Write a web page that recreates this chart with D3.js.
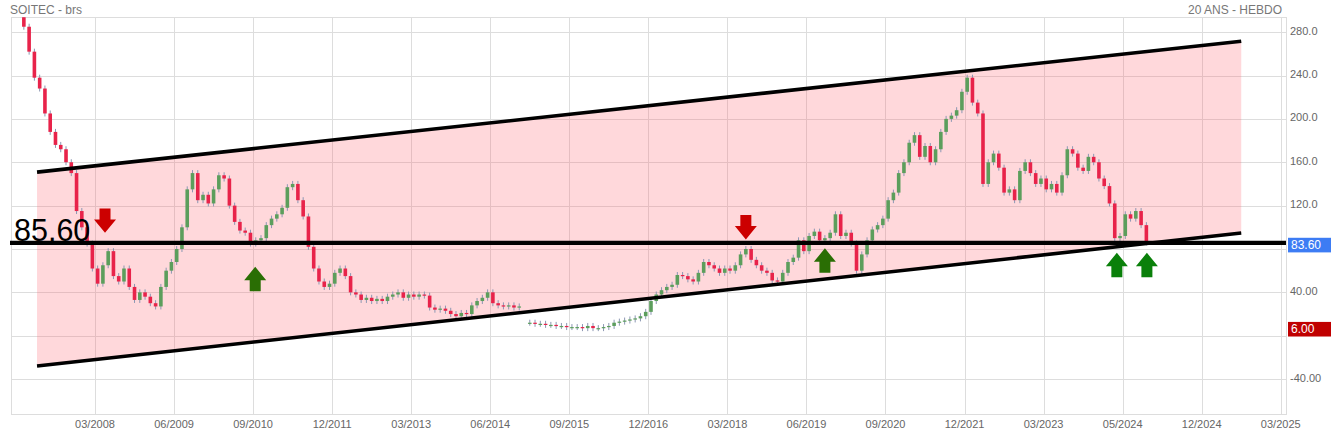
<!DOCTYPE html>
<html><head><meta charset="utf-8">
<script src="https://cdn.jsdelivr.net/npm/d3@7/dist/d3.min.js"></script>
<style>
html,body{margin:0;padding:0;background:#fff;}
svg{display:block;font-family:Arial,"Liberation Sans",sans-serif;}
</style></head>
<body>
<svg id="chart" width="1331" height="435"></svg>
<script>
// ---- DATA ----
const title = "SOITEC - brs";
const subtitle = "20 ANS - HEBDO";
const tickLabels = ["03/2008","06/2009","09/2010","12/2011","03/2013","06/2014","09/2015","12/2016","03/2018","06/2019","09/2020","12/2021","03/2023","05/2024","12/2024","03/2025"];
const tickBars = [13.5,28.5,43.5,58.5,73.5,88.5,103.5,118.5,133.5,148.5,163.5,178.5,193.5,208.5,223.5,238.5];
const yTicks = [280,240,200,160,120,80,40,0,-40];
const yTickLabels = ["280.0","240.0","200.0","160.0","120.0","","40.00","","-40.00"]; // 80 and 0 are hidden under the price boxes
const firstOpen = 300;
const closes = [
 285,262,238,228,205,188,176,172,160,150,
 115,100,85,62,48,65,78,55,50,62,
 45,33,40,36,30,27,45,60,68,80,
 100,135,150,125,130,122,135,148,145,120,
 105,97,95,85,88,90,102,108,112,118,
 137,140,125,110,82,62,50,45,48,58,
 62,55,40,38,33,35,32,34,32,36,
 38,40,35,38,36,38,37,26,24,25,
 23,20,18,21,20,28,32,35,40,30,
 28,27,28,26,27,null,12,11,11,10,
 10,9,9,8,8,8,7,9,7,7,
 8,9,12,13,14,15,16,18,22,32,
 38,42,45,47,56,55,52,50,58,68,
 65,62,58,62,60,65,75,80,70,65,
 60,58,51,50,58,68,72,88,78,92,
 96,88,90,95,112,92,95,85,60,75,
 88,98,102,108,125,132,150,160,178,185,
 165,175,160,172,188,200,203,208,225,238,
 215,205,140,160,168,155,132,135,125,152,
 160,150,140,145,135,140,132,148,172,168,
 155,152,165,160,145,138,122,90,92,112,
 108,115,102,86
];
const channelBars = [2.5, 231];
const channelUpper = [150.9, 271.6];
const channelLower = [-27.9, 94.7];
const levelValue = 85.6;
const levelText = "85.60";
const lastPrice = 83.6;
const lowMark = 6.0;
const arrowBars = [15.4, 137.0, 43.9, 152.0, 207.4, 213.1];
const arrowTips = [94.9, 88.8, 63.6, 80.6, 76.5, 76.5];
const arrowDirs = ["down","down","up","up","up","up"];
const arrowColors = ["#cc0000","#cc0000","#2a6e04","#2a6e04","#0a800a","#0a800a"];

// ---- LAYOUT ----
const W = 1331, H = 435;
const plot = {left: 10.7, right: 1286, top: 17.3, bottom: 414};
const svg = d3.select("#chart");

const x = d3.scaleLinear().domain([tickBars[0], tickBars[tickBars.length-1]]).range([95, 1280.75]);
const y = d3.scaleLinear().domain([-72.2, 293.7]).range([plot.bottom, plot.top]);

svg.append("defs").append("clipPath").attr("id","clip")
  .append("rect").attr("x",plot.left).attr("y",plot.top)
  .attr("width",plot.right-plot.left).attr("height",plot.bottom-plot.top);

// grid
const grid = svg.append("g").attr("stroke","#dddddd").attr("stroke-width",1).attr("shape-rendering","crispEdges");
grid.selectAll("line.h").data(yTicks).join("line").attr("class","h")
  .attr("x1",plot.left).attr("x2",plot.right).attr("y1",d=>Math.round(y(d))+0.5).attr("y2",d=>Math.round(y(d))+0.5);
grid.selectAll("line.v").data(tickBars).join("line").attr("class","v")
  .attr("x1",d=>Math.round(x(d))+0.5).attr("x2",d=>Math.round(x(d))+0.5).attr("y1",plot.top).attr("y2",plot.bottom);
// frame
svg.append("rect").attr("x",Math.round(plot.left)+0.5).attr("y",Math.round(plot.top)+0.5)
  .attr("width",Math.round(plot.right-plot.left)).attr("height",Math.round(plot.bottom-plot.top))
  .attr("fill","none").attr("stroke","#dddddd").attr("shape-rendering","crispEdges");

// channel fill
const chPts = [
  [x(channelBars[0]), y(channelUpper[0])],
  [x(channelBars[1]), y(channelUpper[1])],
  [x(channelBars[1]), y(channelLower[1])],
  [x(channelBars[0]), y(channelLower[0])]
];
svg.append("polygon").attr("points", chPts.map(p=>p.join(",")).join(" "))
  .attr("fill","rgb(255,100,112)").attr("fill-opacity",0.25);

// candles
const candles = [];
let prev = firstOpen;
closes.forEach((c,i)=>{
  if (c === null) { prev = null; return; }
  const o = (prev === null) ? c : prev;
  candles.push({i, o, c});
  prev = c;
});
const cg = svg.append("g").attr("clip-path","url(#clip)");
cg.selectAll("line.wick").data(candles).join("line").attr("class","wick")
  .attr("x1",d=>x(d.i)).attr("x2",d=>x(d.i))
  .attr("y1",d=>y(Math.max(d.o,d.c))-3).attr("y2",d=>y(Math.min(d.o,d.c))+3)
  .attr("stroke","#8c97b2").attr("stroke-width",1);
cg.selectAll("rect.body").data(candles).join("rect").attr("class","body")
  .attr("x",d=>x(d.i)-1.8).attr("width",3.6)
  .attr("y",d=>y(Math.max(d.o,d.c)))
  .attr("height",d=>Math.max(1.2, Math.abs(y(d.o)-y(d.c))))
  .attr("fill",d=>d.c>=d.o ? "#5c9e5c" : "#e8234a");

// channel lines
const lineGen = d3.line().x(d=>x(d[0])).y(d=>y(d[1]));
svg.append("path").attr("d", lineGen([[channelBars[0],channelUpper[0]],[channelBars[1],channelUpper[1]]]))
  .attr("stroke","#000").attr("stroke-width",3.6).attr("fill","none");
svg.append("path").attr("d", lineGen([[channelBars[0],channelLower[0]],[channelBars[1],channelLower[1]]]))
  .attr("stroke","#000").attr("stroke-width",3.6).attr("fill","none");

// level line
svg.append("line").attr("x1",plot.left-0.7).attr("x2",plot.right).attr("y1",y(levelValue)).attr("y2",y(levelValue))
  .attr("stroke","#000").attr("stroke-width",4.2);
svg.append("text").attr("x",14).attr("y",y(levelValue)-2.3).text(levelText)
  .attr("font-size",30.5).attr("fill","#000");

// arrows
const headW = 22, headH = 13.4, shaftW = 11, shaftH = 11;
arrowBars.forEach((b,k)=>{
  const cx = x(b), ty = y(arrowTips[k]);
  const s = arrowDirs[k]==="down" ? -1 : 1;
  const pts = [
    [cx, ty],
    [cx+headW/2, ty+s*headH],
    [cx+shaftW/2, ty+s*headH],
    [cx+shaftW/2, ty+s*(headH+shaftH)],
    [cx-shaftW/2, ty+s*(headH+shaftH)],
    [cx-shaftW/2, ty+s*headH],
    [cx-headW/2, ty+s*headH]
  ];
  svg.append("polygon").attr("points",pts.map(p=>p.join(",")).join(" ")).attr("fill",arrowColors[k]);
});

// axis labels
svg.append("g").selectAll("text").data(yTicks.filter((d,i)=>yTickLabels[i]!=="")).join("text")
  .attr("x",1290).attr("y",d=>y(d)+2.5).text(d=>yTickLabels[yTicks.indexOf(d)])
  .attr("font-size",11).attr("fill","#666");
svg.append("g").selectAll("text").data(tickBars).join("text")
  .attr("x",d=>x(d)).attr("y",428).attr("text-anchor","middle").text((d,i)=>tickLabels[i])
  .attr("font-size",11).attr("fill","#666");

// price boxes
function priceBox(v, color){
  const cy = y(v);
  svg.append("rect").attr("x",1288).attr("y",cy-7.3).attr("width",W-1288).attr("height",14.6).attr("fill",color);
  svg.append("text").attr("x",1291).attr("y",cy+4.2).text(v.toFixed(2))
    .attr("font-size",12).attr("fill","#fff");
}
priceBox(lastPrice, "#3d7cf4");
priceBox(lowMark, "#c00000");

// titles
svg.append("text").attr("x",10).attr("y",14).text(title).attr("font-size",12).attr("fill","#777");
svg.append("text").attr("x",1282).attr("y",14).attr("text-anchor","end").text(subtitle).attr("font-size",12).attr("fill","#777");
</script>
</body></html>
